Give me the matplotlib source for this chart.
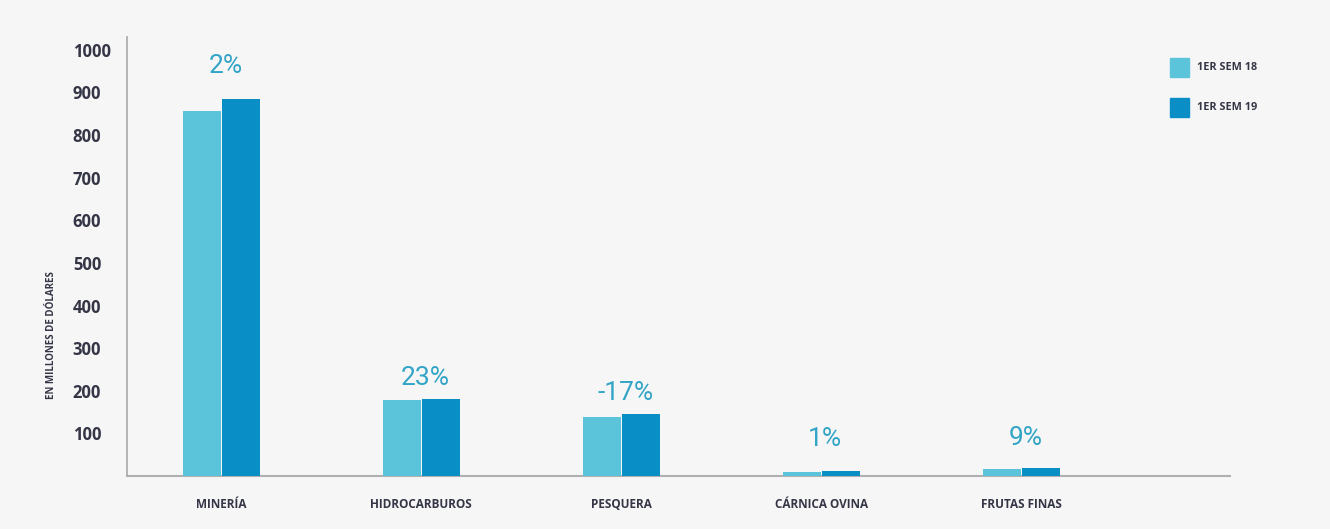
import matplotlib
matplotlib.use("Agg")
import matplotlib.pyplot as plt
import numpy as np
from matplotlib.patches import Rectangle

categories = ["MINERÍA", "HIDROCARBUROS", "PESQUERA", "CÁRNICA OVINA", "FRUTAS FINAS"]
sem18 = [857, 178, 139, 10, 16]
sem19 = [885, 181, 145, 12, 19]
changes = ["2%", "23%", "-17%", "1%", "9%"]
series_names = ["1ER SEM 18", "1ER SEM 19"]
yticks = [100, 200, 300, 400, 500, 600, 700, 800, 900, 1000]

LIGHT = "#5bc4db"
DARK = "#0a8ec6"
PCT = "#32a4c6"
TEXT = "#343646"
BG = "#f6f6f6"

plt.rcParams["font.family"] = ["Open Sans", "DejaVu Sans"]

W, H = 1330, 529
fig = plt.figure(figsize=(W / 100, H / 100), dpi=100, facecolor=BG)
ax = fig.add_axes([127 / W, 1 - 476 / H, (1230 - 127) / W, (476 - 37) / H])
ax.set_facecolor(BG)

x = np.arange(len(categories))
w = 0.19
gap = 0.006
ax.bar(x - w / 2 - gap / 2, sem18, width=w, color=LIGHT, zorder=3)
ax.bar(x + w / 2 + gap / 2, sem19, width=w, color=DARK, zorder=3)

# gap (in points) between each percentage and the taller bar of its pair
label_gap = [18.5, 10, 10, 18, 16.5]
for xi, a, b, txt, g in zip(x, sem18, sem19, changes, label_gap):
    ax.annotate(txt, (xi, max(a, b)), xytext=(3, g), textcoords="offset points",
                ha="center", va="baseline", fontsize=19, color=PCT,
                family=["Roboto", "DejaVu Sans"], fontweight="normal")

ax.set_xlim(-0.471, 5.044)
ax.set_ylim(0, 1030)

ax.set_yticks(yticks)
ax.set_yticklabels([str(t) for t in yticks], ha="left", fontsize=12,
                   fontweight="bold", color=TEXT)
ax.tick_params(axis="y", length=0, pad=39)
ax.set_xticks(x)
ax.set_xticklabels(categories, fontsize=8.5, fontweight="bold", color=TEXT)
ax.tick_params(axis="x", length=0, pad=16)

ax.set_ylabel("EN MILLONES DE DÓLARES", fontsize=7, fontweight="bold", color=TEXT,
              labelpad=0)
ax.yaxis.set_label_coords(-0.0635, 0.322)

for s in ["top", "right"]:
    ax.spines[s].set_visible(False)
ax.spines["left"].set_color("#a8a8a8")
ax.spines["left"].set_linewidth(1.2)
ax.spines["bottom"].set_color("#b0b0b0")
ax.spines["bottom"].set_linewidth(1.5)

# legend: coloured squares with bold labels in the top-right corner
for i, (name, col) in enumerate(zip(series_names, [LIGHT, DARK])):
    top = 58 + 40 * i
    fig.patches.append(Rectangle((1170 / W, 1 - (top + 19) / H), 19 / W, 19 / H,
                                 transform=fig.transFigure, color=col))
    fig.text(1197 / W, 1 - (top + 9.5) / H, name, fontsize=7.8, fontweight="bold",
             color=TEXT, va="center", ha="left")

fig.savefig("out.png", dpi=100, facecolor=BG)
